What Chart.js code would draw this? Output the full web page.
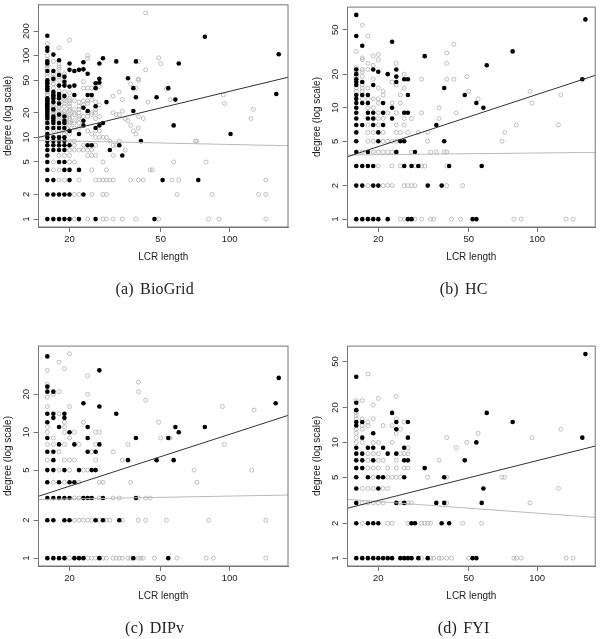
<!DOCTYPE html>
<html>
<head>
<meta charset="utf-8">
<script src="https://cdn.jsdelivr.net/npm/chart.js@4"></script>
<style>
  html, body { margin: 0; padding: 0; background: #fff; overflow: hidden; }
  #page { position: relative; width: 600px; height: 639px; }
  canvas { position: absolute; filter: blur(0.35px); }
  .caption { position: absolute; width: 200px; text-align: center; font: 16px "Liberation Serif", serif; word-spacing: 2px; letter-spacing: 0.2px; color: #222; }
</style>
</head>
<body>
<div id="page"></div>
<script>
// degrees are listed per LCR length: lengths[i] goes with degrees[i]
const biogridFilledLengths = [16, 17, 18, 19, 20, 21, 22, 23, 24, 25, 26, 27, 28, 29, 30, 32, 33, 34, 36, 38, 39, 41, 47, 48, 51, 54, 57, 58, 60, 73, 78, 101, 160, 164];
const biogridFilledDegrees = [
  [1, 2, 3, 4, 5, 6, 7, 8, 9, 10, 11, 13, 15, 17, 18, 19, 20, 21, 22, 23, 24, 25, 26, 27, 28, 29, 30, 38, 40, 42, 45, 47, 50, 65, 80, 85, 115, 125, 175],
  [1, 2, 3, 7, 8, 9, 10, 13, 15, 16, 17, 18, 22, 27, 30, 32, 33, 36, 52, 65, 103],
  [1, 2, 5, 7, 8, 9, 10, 13, 15, 19, 26, 30, 32, 34, 43, 58, 88],
  [1, 2, 4, 5, 7, 8, 9, 10, 13, 15, 16, 18, 32, 43, 48, 55],
  [1, 2, 3, 4, 8, 12, 42, 67, 80],
  [33, 43, 65],
  [1, 4, 11, 67],
  [2, 14, 16, 23, 68, 83],
  [8, 21, 33, 60],
  [8, 33],
  [1, 13, 24, 40, 46],
  [14, 47, 52, 80],
  [15, 93],
  [27],
  [7],
  [85],
  [8],
  [6],
  [53],
  [21, 40],
  [31, 85],
  [9],
  [1],
  [31],
  [3],
  [40],
  [14],
  [29],
  [80],
  [3],
  [170],
  [11],
  [34],
  [104]
];
const biogridOpenLengths = [16, 17, 18, 19, 20, 21, 22, 23, 24, 25, 26, 27, 28, 29, 30, 31, 32, 33, 34, 35, 36, 37, 38, 39, 40, 42, 43, 44, 45, 46, 49, 50, 53, 55, 56, 57, 59, 60, 71, 72, 79, 81, 84, 90, 94, 95, 124, 127, 134, 144];
const biogridOpenDegrees = [
  [12, 14, 16, 33, 35, 37, 55, 60, 70, 75, 90, 100, 140],
  [4, 5, 12, 14, 19, 20, 21, 23, 24, 26, 28, 35, 40, 45, 50, 55, 60, 85],
  [3, 4, 6, 11, 12, 14, 16, 17, 18, 20, 21, 23, 24, 28, 37, 50, 55, 60, 68, 72, 80, 125],
  [3, 6, 11, 12, 14, 17, 19, 20, 21, 24, 26, 28, 30, 36, 46, 50, 56, 60],
  [5, 6, 7, 9, 11, 14, 15, 16, 17, 18, 19, 21, 22, 24, 26, 28, 30, 35, 155],
  [1, 2, 5, 7, 8, 9, 13, 15, 16, 19, 20, 22, 28],
  [2, 3, 7, 13, 15, 17, 18, 20, 22, 24, 27],
  [7, 8, 18, 25, 28, 40, 48],
  [1, 6, 7, 12, 18, 20, 26, 28, 40, 92, 100],
  [2, 4, 6, 7, 11, 19, 20, 29, 40],
  [3, 6, 8, 10, 12, 17, 20, 22, 27],
  [3, 10, 12, 18, 25, 42],
  [1, 2, 3, 5, 10],
  [1, 2, 3, 4, 10],
  [3, 9],
  [1, 3, 6, 8, 20, 32],
  [8, 19],
  [9, 19, 36],
  [1, 21, 29],
  [7, 17],
  [16],
  [3, 14, 45],
  [12],
  [1, 11, 40],
  [3, 13, 18, 50, 52, 85],
  [3, 17],
  [67, 334],
  [27],
  [4],
  [4],
  [1, 94],
  [80],
  [39],
  [29],
  [3],
  [5],
  [2],
  [3],
  [9],
  [9],
  [5],
  [1],
  [2],
  [1],
  [33],
  [26],
  [17],
  [22],
  [2],
  [1, 2, 3]
];
const biogridBlackFitX = [14.64, 180];
const biogridBlackFitY = [10, 54.4];
const biogridGreyFitX = [14.64, 180];
const biogridGreyFitY = [9.2, 7.9];
const biogridYTicks = [1, 2, 5, 10, 20, 50, 100, 200];

const hcFilledLengths = [16, 17, 18, 19, 20, 21, 22, 23, 24, 25, 26, 27, 28, 29, 30, 32, 33, 36, 38, 39, 41, 48, 52, 54, 57, 58, 60, 78, 158, 163];
const hcFilledDegrees = [
  [1, 2, 3, 4, 5, 6, 7, 8, 9, 10, 11, 12, 13, 16, 17, 18, 20, 22, 44, 68],
  [1, 2, 3, 7, 11, 13, 17, 36],
  [1, 3, 4, 8, 9, 11, 13],
  [1, 2, 3, 7, 8, 9, 16, 22],
  [1, 2, 5, 6, 21],
  [7, 9, 11],
  [1, 20],
  [8, 10, 39],
  [4, 17, 19, 22],
  [5],
  [3, 5, 9, 18],
  [1, 9, 13, 18],
  [1, 3],
  [4],
  [3],
  [29],
  [2],
  [7],
  [2],
  [5, 15],
  [3],
  [13],
  [1],
  [1, 11],
  [3],
  [10],
  [24],
  [32],
  [18],
  [62]
];
const hcOpenLengths = [16, 17, 18, 19, 20, 21, 22, 23, 24, 25, 26, 27, 28, 29, 30, 31, 32, 33, 34, 35, 36, 37, 39, 40, 42, 43, 44, 46, 47, 49, 50, 55, 70, 72, 79, 81, 85, 93, 95, 124, 127, 134, 144];
const hcOpenDegrees = [
  [14, 15, 19, 21, 23, 32],
  [4, 12, 14, 15, 16, 19, 21, 22, 27, 28, 55],
  [2, 5, 6, 7, 10, 12, 15, 22, 25, 44],
  [4, 5, 6, 8, 10, 12, 18, 24, 29],
  [3, 4, 7, 8, 9, 11, 12, 15, 27, 30],
  [2, 4, 5, 6, 8, 13, 14],
  [2, 4, 5, 9],
  [2, 3, 4, 5, 11, 17],
  [4, 5, 6, 7, 9, 16, 25],
  [1, 3, 6, 11, 13],
  [1, 2, 7, 8, 15, 20],
  [2, 6],
  [2, 4, 8],
  [1, 2, 3],
  [6],
  [1, 3, 9, 18],
  [3],
  [5, 6],
  [1, 4],
  [1],
  [4],
  [8, 10],
  [4],
  [2, 3, 4, 18, 25, 31],
  [1],
  [18, 37],
  [9],
  [1],
  [2],
  [19],
  [14],
  [12],
  [5],
  [6],
  [1],
  [7],
  [1],
  [14],
  [11],
  [7],
  [13],
  [1],
  [1]
];
const hcBlackFitX = [14.64, 180];
const hcBlackFitY = [3.63, 19.5];
const hcGreyFitX = [14.64, 180];
const hcGreyFitY = [3.76, 3.97];
const hcYTicks = [1, 2, 5, 10, 20, 50];

const dipFilledLengths = [16, 17, 18, 19, 20, 21, 22, 23, 24, 25, 26, 27, 28, 32, 33, 36, 38, 39, 48, 54, 57, 58, 60, 78, 159, 164];
const dipFilledDegrees = [
  [1, 2, 3, 4, 5, 7, 9, 12, 14, 21, 23, 40],
  [1, 2, 3, 5, 6, 7, 13, 14, 21],
  [1, 3, 4, 8, 11],
  [1, 2, 3, 5, 13, 14],
  [2, 3, 4, 10],
  [1, 4, 8],
  [1, 5],
  [1, 3, 17],
  [3, 7, 9, 11],
  [3, 5],
  [2, 5, 7],
  [1, 8, 16, 31],
  [2, 3],
  [14],
  [2],
  [6],
  [1],
  [3, 9],
  [6],
  [1, 9],
  [6],
  [11],
  [10],
  [11],
  [17],
  [27]
];
const dipOpenLengths = [16, 17, 18, 19, 20, 21, 22, 23, 24, 25, 26, 27, 28, 29, 30, 31, 32, 33, 34, 36, 37, 40, 41, 42, 43, 45, 47, 49, 50, 53, 55, 59, 70, 72, 79, 81, 85, 93, 95, 125, 128, 144];
const dipOpenDegrees = [
  [6, 8, 10, 11, 16, 19, 24, 31],
  [4, 8, 9, 20],
  [5, 7, 14, 21, 36],
  [4, 6, 8, 10, 11, 12, 32],
  [1, 5, 6, 9, 16, 42],
  [2, 3, 6, 10],
  [2, 3, 4, 8],
  [2, 3, 5, 12],
  [1, 2, 5, 20, 28],
  [1, 2, 7],
  [1, 6, 8, 10],
  [2, 3, 4, 10],
  [1, 4],
  [1, 2],
  [2],
  [1, 3, 7],
  [1],
  [1, 3],
  [1, 2, 6],
  [1, 8],
  [1, 4],
  [1, 2, 3, 21, 25],
  [1],
  [1],
  [2, 3, 18],
  [3],
  [1],
  [12],
  [9],
  [2],
  [9],
  [1],
  [5],
  [4],
  [1],
  [2],
  [1],
  [16],
  [8],
  [5],
  [15],
  [1, 2]
];
const dipBlackFitX = [14.64, 180];
const dipBlackFitY = [3.1, 13.6];
const dipGreyFitX = [14.64, 180];
const dipGreyFitY = [2.92, 3.17];
const dipYTicks = [1, 2, 5, 10, 20];

const fyiFilledLengths = [16, 17, 18, 19, 20, 21, 22, 23, 24, 25, 26, 27, 28, 29, 30, 32, 33, 36, 38, 39, 41, 48, 52, 54, 57, 58, 60, 78, 158, 163];
const fyiFilledDegrees = [
  [1, 2, 3, 4, 5, 6, 7, 8, 9, 14, 15, 19, 22, 37],
  [1, 6, 7, 8, 11, 15],
  [1, 2, 5, 9],
  [1, 2, 7, 9, 12],
  [1, 2, 4, 5],
  [1, 5, 9],
  [1, 8],
  [1, 18],
  [3, 8, 13, 15],
  [1],
  [1, 3, 5, 7, 9],
  [1, 7, 11, 15],
  [1, 2],
  [2],
  [1],
  [6],
  [1],
  [3],
  [2],
  [3, 5],
  [2],
  [7],
  [1],
  [1, 10],
  [3],
  [4],
  [18],
  [15],
  [11],
  [58]
];
const fyiOpenLengths = [16, 17, 18, 19, 20, 21, 22, 23, 24, 25, 26, 27, 28, 31, 32, 33, 34, 35, 37, 38, 40, 42, 44, 47, 49, 50, 55, 57, 70, 72, 79, 81, 85, 93, 95, 124, 127, 134, 144];
const fyiOpenDegrees = [
  [10, 11, 12, 13, 16, 17, 18, 23],
  [2, 3, 4, 10, 13, 14, 16, 23],
  [3, 4, 6, 7, 8, 14, 15, 39],
  [3, 4, 5, 6, 8, 10, 16, 21],
  [3, 6, 7, 8, 10, 24],
  [3, 4, 7, 14],
  [2, 4, 5, 6],
  [2, 5, 10, 14],
  [5, 6, 7, 12, 16, 25],
  [3, 5, 8, 13],
  [6, 8, 15],
  [2, 3, 6, 8, 9],
  [3],
  [1, 2],
  [2],
  [2, 5],
  [1, 2],
  [1],
  [1, 7],
  [1],
  [1, 3, 5, 11],
  [1],
  [9],
  [2],
  [10],
  [1],
  [12],
  [2],
  [5],
  [5],
  [1],
  [1],
  [1],
  [3],
  [11],
  [4],
  [13],
  [1],
  [1]
];
const fyiBlackFitX = [14.64, 180];
const fyiBlackFitY = [2.7, 9.3];
const fyiGreyFitX = [14.64, 180];
const fyiGreyFitY = [3.22, 2.25];
const fyiYTicks = [1, 2, 5, 10, 20, 50];

const xTicks = [20, 50, 100];
const captions = ['(a) BioGrid', '(b) HC', '(c) DIPv', '(d) FYI'];

const inkColor = '#222';
const boxColor = '#777';

function flatten(lengths, degrees) {
  return lengths.flatMap((x, i) => degrees[i].map((y) => ({ x, y })));
}

function pairs(xs, ys) {
  return xs.map((x, i) => ({ x, y: ys[i] }));
}

// the R-style box round the plot, axes only give left and bottom
const boxPlugin = {
  id: 'box',
  afterDatasetsDraw(chart) {
    const { ctx, chartArea: a } = chart;
    ctx.save();
    ctx.strokeStyle = boxColor;
    ctx.lineWidth = 1;
    ctx.strokeRect(a.left, a.top, a.right - a.left, a.bottom - a.top);
    ctx.restore();
  }
};

function drawPanel(p) {
  const canvas = document.createElement('canvas');
  canvas.width = p.width;
  canvas.height = 281;
  canvas.style.left = p.left + 'px';
  canvas.style.top = p.top + 'px';
  document.getElementById('page').appendChild(canvas);

  const caption = document.createElement('div');
  caption.className = 'caption';
  caption.textContent = p.caption;
  caption.style.left = p.left + 154.7 - 100 + 'px';
  caption.style.top = p.top + 280 + 'px';
  document.getElementById('page').appendChild(caption);

  const tickFont = { family: '"Liberation Sans", sans-serif', size: 9.5 };
  const titleFont = { family: '"Liberation Sans", sans-serif', size: 10 };

  new Chart(canvas, {
    type: 'scatter',
    data: {
      datasets: [
        { type: 'line', data: pairs(p.blackFitX, p.blackFitY), borderColor: '#333', borderWidth: 1, pointRadius: 0 },
        { type: 'line', data: pairs(p.greyFitX, p.greyFitY), borderColor: '#bbb', borderWidth: 1, pointRadius: 0 },
        { data: flatten(p.filledLengths, p.filledDegrees), backgroundColor: '#000', borderColor: '#000', borderWidth: 0, pointRadius: 2.3 },
        { data: flatten(p.openLengths, p.openDegrees), backgroundColor: 'transparent', borderColor: '#b0b0b0', borderWidth: 0.8, pointRadius: 2 }
      ]
    },
    plugins: [boxPlugin],
    options: {
      responsive: false,
      animation: false,
      layout: { padding: { left: 0, top: 4, right: p.width - p.plotRight, bottom: 0 } },
      plugins: { legend: { display: false }, tooltip: { enabled: false } },
      scales: {
        x: {
          type: 'logarithmic',
          min: 14.64,
          max: 180,
          afterFit: (scale) => { scale.height = 54; },
          afterBuildTicks: (scale) => { scale.ticks = xTicks.map((value) => ({ value })); },
          grid: { drawOnChartArea: false, color: boxColor, tickLength: 5 },
          border: { color: boxColor },
          ticks: { autoSkip: false, maxRotation: 0, font: tickFont, color: inkColor, padding: 2, callback: (v) => String(v) },
          title: { display: true, text: 'LCR length', font: titleFont, color: inkColor, padding: { top: 0, bottom: 18 } }
        },
        y: {
          type: 'logarithmic',
          min: p.yMin,
          max: p.yMax,
          afterFit: (scale) => { scale.width = 38.5; },
          afterBuildTicks: (scale) => { scale.ticks = p.yTicks.map((value) => ({ value })); },
          grid: { drawOnChartArea: false, color: boxColor, tickLength: 5 },
          border: { color: boxColor },
          ticks: { autoSkip: false, minRotation: 90, maxRotation: 90, crossAlign: 'center', font: tickFont, color: inkColor, padding: p.yTickPadding, callback: (v) => String(v) },
          title: { display: true, text: 'degree (log scale)', font: titleFont, color: inkColor, padding: { top: 2, bottom: 0 } }
        }
      }
    }
  });
}

drawPanel({ left: 0, top: 0, width: 300, plotRight: 288, yMin: 0.8, yMax: 419, yTickPadding: -1.2, yTicks: biogridYTicks, caption: captions[0],
  filledLengths: biogridFilledLengths, filledDegrees: biogridFilledDegrees, openLengths: biogridOpenLengths, openDegrees: biogridOpenDegrees,
  blackFitX: biogridBlackFitX, blackFitY: biogridBlackFitY, greyFitX: biogridGreyFitX, greyFitY: biogridGreyFitY });
drawPanel({ left: 309, top: 0, width: 291, plotRight: 288.5, yMin: 0.85, yMax: 79.9, yTickPadding: 1.4, yTicks: hcYTicks, caption: captions[1],
  filledLengths: hcFilledLengths, filledDegrees: hcFilledDegrees, openLengths: hcOpenLengths, openDegrees: hcOpenDegrees,
  blackFitX: hcBlackFitX, blackFitY: hcBlackFitY, greyFitX: hcGreyFitX, greyFitY: hcGreyFitY });
drawPanel({ left: 0, top: 339, width: 300, plotRight: 288, yMin: 0.866, yMax: 48.3, yTickPadding: 1.4, yTicks: dipYTicks, caption: captions[2],
  filledLengths: dipFilledLengths, filledDegrees: dipFilledDegrees, openLengths: dipOpenLengths, openDegrees: dipOpenDegrees,
  blackFitX: dipBlackFitX, blackFitY: dipBlackFitY, greyFitX: dipGreyFitX, greyFitY: dipGreyFitY });
drawPanel({ left: 309, top: 339, width: 291, plotRight: 288.5, yMin: 0.855, yMax: 68, yTickPadding: 1.4, yTicks: fyiYTicks, caption: captions[3],
  filledLengths: fyiFilledLengths, filledDegrees: fyiFilledDegrees, openLengths: fyiOpenLengths, openDegrees: fyiOpenDegrees,
  blackFitX: fyiBlackFitX, blackFitY: fyiBlackFitY, greyFitX: fyiGreyFitX, greyFitY: fyiGreyFitY });
</script>
</body>
</html>
